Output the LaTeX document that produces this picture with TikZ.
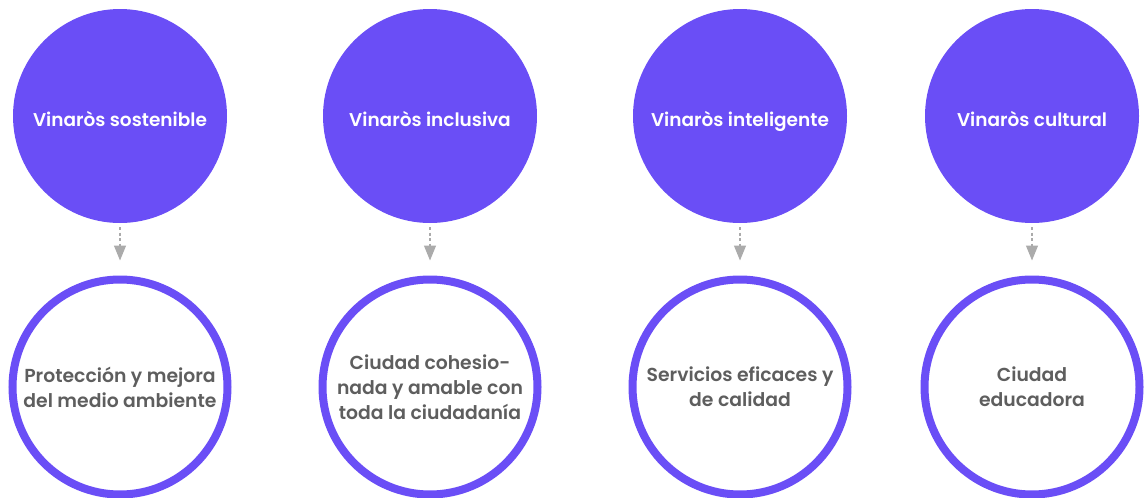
\documentclass[tikz,border=0pt]{standalone}
\usepackage{fontspec}
\setmainfont{Poppins}[BoldFont={Poppins SemiBold}]
\usetikzlibrary{arrows.meta}
\definecolor{vpurple}{HTML}{6A4EF6}
\definecolor{vgray}{HTML}{5E5E5E}
\definecolor{agray}{HTML}{ABABAB}
\tikzset{
  topcircle/.style={circle, fill=vpurple, minimum size=214pt, inner sep=0pt, text=white, text height=22pt, text depth=2pt, font=\fontsize{18.5}{22}\selectfont\bfseries},
  botcircle/.style={circle, draw=vpurple, line width=8pt, fill=white, minimum size=215pt, inner sep=0pt, text=vgray, align=center, font=\fontsize{18.8}{25}\selectfont\bfseries},
  linkarrow/.style={draw=agray, line width=1.2pt, dash pattern=on 3pt off 2.5pt, -{Triangle[width=12pt,length=15pt,fill=agray]}, shorten <=4pt, shorten >=15pt}
}
\begin{document}
\begin{tikzpicture}[x=1pt,y=-1pt]
\useasboundingbox (0,0) rectangle (1146,498);
\foreach \n/\x/\t/\b in {
  a/120/Vinaròs sostenible/{Protección y mejora\\del medio ambiente},
  b/430/Vinaròs inclusiva/{Ciudad cohesio-\\nada y amable con\\toda la ciudadanía},
  c/740/Vinaròs inteligente/{Servicios eficaces y\\de calidad},
  d/1032/Vinaròs cultural/{Ciudad\\educadora}}{
  \node[topcircle] (t\n) at (\x,116) {\t};
  \node[botcircle] (b\n) at (\x,387) {\b};
  \draw[linkarrow] (t\n) -- (b\n);
}
\end{tikzpicture}
\end{document}
